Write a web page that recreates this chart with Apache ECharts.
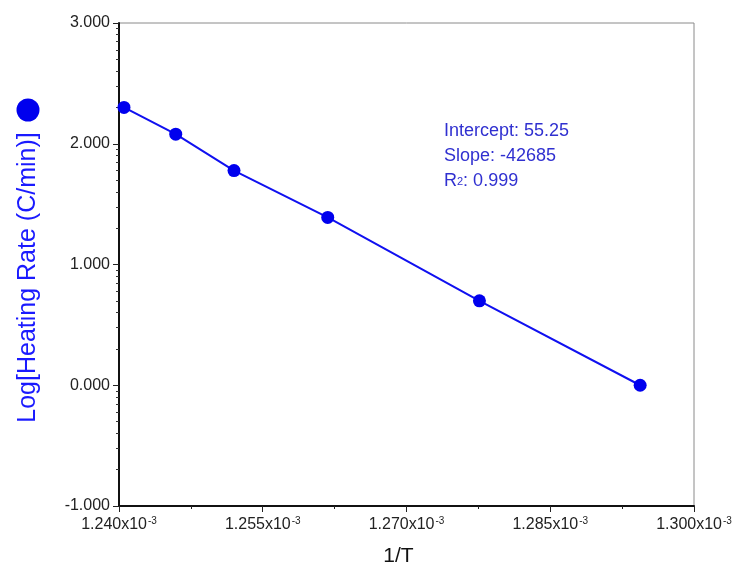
<!DOCTYPE html>
<html>
<head>
<meta charset="utf-8">
<script src="https://cdn.jsdelivr.net/npm/echarts@6/dist/echarts.min.js"></script>
<style>html,body{margin:0;padding:0;background:#fff}#c{width:744px;height:569px}</style>
</head>
<body>
<div id="c"></div>
<script>
// 1/T values in units of 10^-3 K^-1
const invT = [1.24052, 1.24592, 1.25200, 1.26178, 1.27761, 1.29438];
// log10 of heating rate (C/min)
const logRate = [2.301, 2.079, 1.778, 1.390, 0.699, 0.000];
const xTickLabels = [1.240, 1.255, 1.270, 1.285, 1.300];
const yTickLabels = [-1, 0, 1, 2, 3];
const fitText = ['Intercept: 55.25', 'Slope: -42685', 'R2: 0.999'];

const xMinor = [];
for (let i = 0; i < xTickLabels.length - 1; i++) xMinor.push((xTickLabels[i] + xTickLabels[i + 1]) / 2);
const yMinor = [];
for (let i = 0; i < yTickLabels.length - 1; i++) {
  for (let k = 2; k <= 9; k++) yMinor.push(yTickLabels[i] + Math.log10(k));
}

const chart = echarts.init(document.getElementById('c'));
const font = '"Liberation Sans", Arial, sans-serif';
const blueText = '#3030d0';
chart.setOption({
  animation: false,
  backgroundColor: '#fff',
  grid: {left: 119, right: 50, top: 23, bottom: 63, show: true, borderColor: '#8a8a8a', borderWidth: 1,
         containLabel: false, outerBoundsMode: 'none'},
  xAxis: [{
    type: 'value', min: 1.240, max: 1.300,
    name: '1/T', nameLocation: 'middle', nameGap: 40,
    nameTextStyle: {fontFamily: font, fontSize: 21, color: '#111', padding: [0, 16, 0, 0]},
    axisLine: {show: true, onZero: false, lineStyle: {color: '#111', width: 2}},
    axisTick: {show: true, length: 6, customValues: xTickLabels, lineStyle: {color: '#222', width: 1}},
    axisLabel: {
      customValues: xTickLabels, margin: 10,
      fontFamily: font, fontSize: 16, color: '#222',
      formatter: v => v.toFixed(3) + 'x10{sup|-3}',
      rich: {sup: {fontFamily: font, fontSize: 10, color: '#222', verticalAlign: 'top', padding: [0, 0, 8, 1]}}
    },
    splitLine: {show: false}
  }, {
    type: 'value', min: 1.240, max: 1.300, position: 'bottom',
    axisLine: {show: false, onZero: false},
    axisTick: {show: true, length: 3, customValues: xMinor, lineStyle: {color: '#222'}},
    axisLabel: {show: false}, splitLine: {show: false}
  }],
  yAxis: [{
    type: 'value', min: -1, max: 3, interval: 1,
    name: 'Log[Heating Rate (C/min)]', nameLocation: 'middle', nameGap: 78, nameRotate: 90,
    nameTextStyle: {fontFamily: font, fontSize: 25, color: '#1a1aff', padding: [0, 26, 0, 0]},
    axisLine: {show: true, onZero: false, lineStyle: {color: '#111', width: 2}},
    axisTick: {show: true, length: 6, lineStyle: {color: '#222'}},
    axisLabel: {fontFamily: font, fontSize: 16, color: '#222', margin: 9, formatter: v => v.toFixed(3)},
    splitLine: {show: false}
  }, {
    type: 'value', min: -1, max: 3, position: 'left',
    axisLine: {show: false, onZero: false},
    axisTick: {show: true, length: 3, customValues: yMinor, lineStyle: {color: '#333'}},
    axisLabel: {show: false}, splitLine: {show: false}
  }],
  series: [{
    type: 'line',
    data: invT.map((x, i) => [x, logRate[i]]),
    symbol: 'circle', symbolSize: 13,
    itemStyle: {color: '#0000ee'},
    lineStyle: {color: '#1010f0', width: 2},
    z: 5
  }],
  graphic: [
    {type: 'circle', shape: {cx: 28, cy: 110, r: 11.5}, style: {fill: '#0000ee'}},
    {type: 'text', left: 444, top: 119, style: {
      text: fitText[0] + '\n' + fitText[1] + '\n{r|R}{sub|2}{t|: 0.999}',
      fontFamily: font, fontSize: 18, lineHeight: 25, fill: blueText,
      rich: {
        r: {fontFamily: font, fontSize: 18, fill: blueText, lineHeight: 25},
        sub: {fontFamily: font, fontSize: 11, fill: blueText, lineHeight: 25},
        t: {fontFamily: font, fontSize: 18, fill: blueText, lineHeight: 25}
      }
    }}
  ]
});
</script>
</body>
</html>
